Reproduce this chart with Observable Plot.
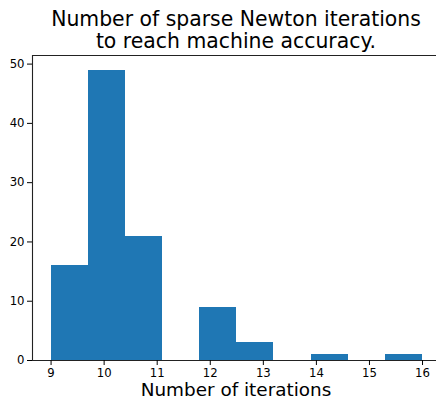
<!DOCTYPE html>
<html>
<head>
<meta charset="utf-8">
<script src="https://cdn.jsdelivr.net/npm/d3@7"></script>
<script src="https://cdn.jsdelivr.net/npm/@observablehq/plot@0.6"></script>
<style>
  html, body { margin: 0; padding: 0; background: #fff; overflow: hidden; }
  #wrap { position: relative; width: 436px; height: 400px; overflow: hidden; font-family: "DejaVu Sans", sans-serif; color: #000; }
  #title { position: absolute; left: 0; top: 8px; width: 472px; text-align: center; font-size: 20.4px; line-height: 22px; }
  #xlabel { position: absolute; left: 0; top: 381px; width: 472px; text-align: center; font-size: 18.4px; line-height: 18.4px; }
  #chart svg { display: block; }
</style>
</head>
<body>
<div id="wrap">
  <div id="chart"></div>
  <div id="title">Number of sparse Newton iterations<br>to reach machine accuracy.</div>
  <div id="xlabel">Number of iterations</div>
</div>
<script>
// Histogram bin edges and counts per bin
const binEdges = [9, 9.7, 10.4, 11.1, 11.8, 12.5, 13.2, 13.9, 14.6, 15.3, 16];
const counts = [16, 49, 21, 0, 9, 3, 0, 1, 0, 1];
const xTicks = [9, 10, 11, 12, 13, 14, 15, 16];
const yTicks = [0, 10, 20, 30, 40, 50];

const bins = counts.map((c, i) => ({x1: binEdges[i], x2: binEdges[i + 1], count: c}));

const xMin = 8.65, xMax = 16.35, yMax = 51.45;

const chart = Plot.plot({
  width: 436,
  height: 400,
  marginTop: 55,
  marginBottom: 40,
  marginLeft: 32,
  marginRight: 0,
  x: {domain: [xMin, xMax], range: [32, 440.6]},
  y: {domain: [0, yMax], range: [360, 55]},
  style: {fontFamily: "DejaVu Sans, sans-serif", fontSize: "11.7px", color: "#000", background: "#fff"},
  marks: [
    Plot.rectY(bins, {x1: "x1", x2: "x2", y: "count", fill: "#1f77b4", insetLeft: 0, insetRight: 0, shapeRendering: "crispEdges"}),
    Plot.ruleY(bins.filter(d => d.count === 0), {x1: "x1", x2: "x2", y: 0, stroke: "#1f77b4"}),
    Plot.ruleY([0], {stroke: "#222", strokeWidth: 1.1}),
    Plot.ruleY([yMax], {stroke: "#222", strokeWidth: 1.1}),
    Plot.ruleX([xMin], {stroke: "#222", strokeWidth: 1.1}),
    Plot.axisX({ticks: xTicks, tickSize: 5, tickPadding: 3, label: null, tickFormat: d => String(d)}),
    Plot.axisY({ticks: yTicks, tickSize: 5, tickPadding: 3, label: null, tickFormat: d => String(d)})
  ]
});
document.getElementById("chart").appendChild(chart);
</script>
</body>
</html>
